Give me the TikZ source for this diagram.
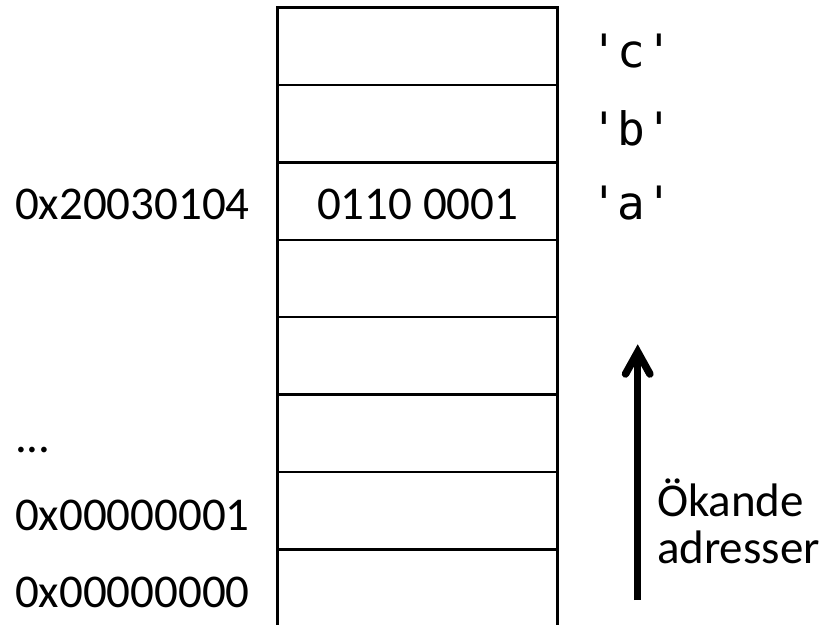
\documentclass[tikz,border=0pt]{standalone}
\usepackage{fontspec}
\setmainfont{Carlito}
\newfontfamily\monof{DejaVu Sans Mono}
\begin{document}
\begin{tikzpicture}[x=1bp,y=-1bp,
  grid/.style={line width=2.6bp,black},
  lbl/.style={inner sep=0pt,outer sep=0pt,anchor=base west,font=\fontsize{47bp}{56bp}\selectfont},
  val/.style={inner sep=0pt,outer sep=0pt,anchor=base,font=\fontsize{47bp}{56bp}\selectfont},
  chr/.style={inner sep=0pt,outer sep=0pt,anchor=base west,font=\monof\fontsize{46bp}{56bp}\selectfont},
  arr/.style={line width=7.5bp,black}]
\useasboundingbox (0,0) rectangle (836,625);
% memory column
\draw[grid] (277.7,625) -- (277.7,7.5) -- (557.7,7.5) -- (557.7,625);
\foreach \yy in {85,162.5,240,317,394.5,472,549.3}
  \draw[grid] (277.7,\yy) -- (557.7,\yy);
% cell content
\node[val] (cell) at (417.7,220) {0110 0001};
% addresses
\node[lbl] (addr1) at (15,220) {0x20030104};
\node[lbl] (dots) at (15,452) {...};
\node[lbl] (addr2) at (15,530) {0x00000001};
\node[lbl] (addr3) at (15,607) {0x00000000};
% characters
\node[chr] (cc) at (590,68) {'c'};
\node[chr] (cb) at (590,146) {'b'};
\node[chr] (ca) at (590,220) {'a'};
% arrow
\coordinate (abot) at (637.7,600);
\coordinate (atop) at (637.7,352);
\coordinate (wl) at (625.5,374);
\coordinate (wr) at (649.9,374);
\draw[arr] (abot) -- (atop);
\draw[arr,line cap=round,line join=miter] (wl) -- (atop) -- (wr);
\node[lbl] (ok1) at (657,516) {Ökande};
\node[lbl] (ok2) at (657,563) {adresser};
\end{tikzpicture}
\end{document}
